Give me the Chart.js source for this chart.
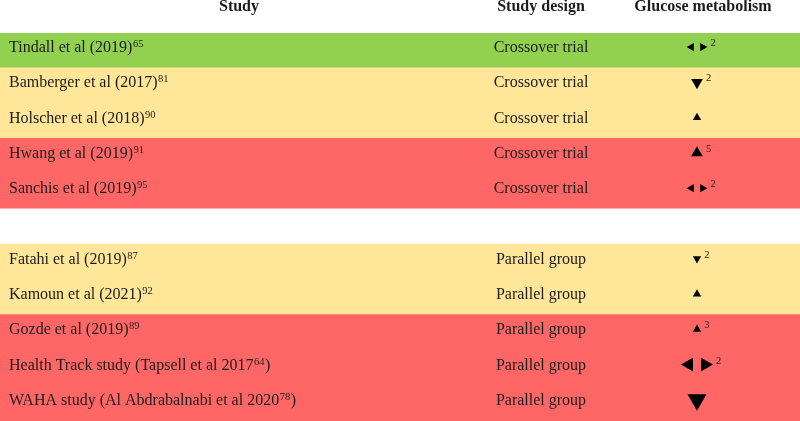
<!DOCTYPE html>
<html lang="en">
<head>
<meta charset="UTF-8">
<title>Glucose metabolism</title>
<script src="https://cdn.jsdelivr.net/npm/chart.js"></script>
<style>
    body { margin: 0; background: #fff; }
    #wrap { width: 800px; height: 421px; }
</style>
</head>
<body>
<div id="wrap"><canvas id="tableChart" width="800" height="421"></canvas></div>
<script>
// Table content
const headers = ['Study', 'Study design', 'Glucose metabolism'];
const studies = ['Tindall et al (2019)', 'Bamberger et al (2017)', 'Holscher et al (2018)', 'Hwang et al (2019)',
    'Sanchis et al (2019)', 'Fatahi et al (2019)', 'Kamoun et al (2021)', 'Gozde et al (2019)',
    'Health Track study (Tapsell et al 2017', 'WAHA study (Al Abdrabalnabi et al 2020'];
const studyRefs = ['65', '81', '90', '91', '95', '87', '92', '89', '64', '78'];
const studyTail = ['', '', '', '', '', '', '', '', ')', ')'];
const designs = ['Crossover trial', 'Crossover trial', 'Crossover trial', 'Crossover trial', 'Crossover trial',
    'Parallel group', 'Parallel group', 'Parallel group', 'Parallel group', 'Parallel group'];
const glucoseEffect = ['none', 'down', 'up', 'up', 'none', 'down', 'up', 'up', 'none', 'down'];
const effectLevel = [1, 2, 1, 2, 1, 1, 1, 1, 3, 4];
const effectNotes = ['2', '2', '', '5', '2', '2', '', '3', '2', ''];
const qualityLevel = ['green', 'yellow', 'yellow', 'red', 'red', 'yellow', 'yellow', 'red', 'red', 'red'];

// Styling
const shades = { green: '#92d050', yellow: '#ffe699', red: '#ff6666' };
const radiusFor = { 1: 4.8, 2: 6.8, 3: 8, 4: 11 };
const serif = '"Liberation Serif", "Times New Roman", serif';
const textColor = '#1c1c1c';
const xMax = 800;
const colStudy = 9, colDesign = 541, colGlucose = 697;
const lift = 0.1;

// Rows: a blank spacer row goes between the two study designs
const rows = [];
studies.forEach((s, i) => {
    if (i > 0 && designs[i] !== designs[i - 1]) rows.push(null);
    rows.push(i);
});
const rowOf = studies.map((s, i) => rows.indexOf(i));

const bandData = rows.map((r, k) => ({ x: [0, xMax], y: k }));
const bandColors = rows.map(r => r === null ? '#ffffff' : shades[qualityLevel[r]]);

function pairGap(i) { return radiusFor[effectLevel[i]] * 0.75 + 2; }

const single = studies.map((s, i) => i).filter(i => glucoseEffect[i] !== 'none');
const paired = studies.map((s, i) => i).filter(i => glucoseEffect[i] === 'none');

const triangleSingle = {
    type: 'scatter',
    order: 0,
    data: single.map(i => ({ x: colGlucose, y: rowOf[i] - lift })),
    pointStyle: 'triangle',
    pointRotation: single.map(i => glucoseEffect[i] === 'up' ? 0 : 180),
    pointRadius: single.map(i => radiusFor[effectLevel[i]]),
    backgroundColor: '#000',
    borderColor: '#000',
    borderWidth: 0
};
const triangleLeft = {
    type: 'scatter',
    order: 0,
    data: paired.map(i => ({ x: colGlucose - pairGap(i), y: rowOf[i] - lift })),
    pointStyle: 'triangle',
    pointRotation: 270,
    pointRadius: paired.map(i => radiusFor[effectLevel[i]]),
    backgroundColor: '#000',
    borderColor: '#000',
    borderWidth: 0
};
const triangleRight = {
    ...triangleLeft,
    data: paired.map(i => ({ x: colGlucose + pairGap(i), y: rowOf[i] - lift })),
    pointRotation: 90
};

// Texts of the table drawn on top of the bands
const tableText = {
    id: 'tableText',
    afterDatasetsDraw(chart) {
        const ctx = chart.ctx;
        const yScale = chart.scales.y;
        ctx.save();
        ctx.fillStyle = textColor;

        ctx.font = 'bold 16px ' + serif;
        ctx.textAlign = 'center';
        ctx.textBaseline = 'alphabetic';
        ctx.fillText(headers[0], 239, 11);
        ctx.fillText(headers[1], colDesign, 11);
        ctx.fillText(headers[2], 703, 11);

        studies.forEach((s, i) => {
            const y = yScale.getPixelForValue(rowOf[i] - lift);
            const base = y + 5;
            ctx.textAlign = 'left';
            ctx.font = '16px ' + serif;
            ctx.fillText(s, colStudy, base);
            let x = colStudy + ctx.measureText(s).width + 0.5;
            ctx.font = '10.5px ' + serif;
            ctx.fillText(studyRefs[i], x, base - 5);
            x += ctx.measureText(studyRefs[i]).width + 0.5;
            ctx.font = '16px ' + serif;
            ctx.fillText(studyTail[i], x, base);

            ctx.textAlign = 'center';
            ctx.fillText(designs[i], colDesign, base);

            if (effectNotes[i]) {
                const r = radiusFor[effectLevel[i]];
                const right = glucoseEffect[i] === 'none' ? colGlucose + pairGap(i) + r : colGlucose + r * 0.87;
                ctx.textAlign = 'left';
                ctx.font = '10.5px ' + serif;
                ctx.fillText(effectNotes[i], right + 3, y - 1);
            }
        });
        ctx.restore();
    }
};

new Chart(document.getElementById('tableChart'), {
    data: {
        datasets: [triangleSingle, triangleLeft, triangleRight, {
            type: 'bar',
            order: 10,
            indexAxis: 'y',
            data: bandData,
            backgroundColor: bandColors,
            borderWidth: 0,
            barThickness: 'flex',
            barPercentage: 1.03,
            categoryPercentage: 1
        }]
    },
    options: {
        responsive: false,
        animation: false,
        layout: { autoPadding: false, padding: { top: 33, left: 0, right: 0, bottom: 0 } },
        scales: {
            x: { type: 'linear', min: 0, max: xMax, offset: false, display: false },
            y: { type: 'linear', min: -0.5, max: rows.length - 0.5, reverse: true, offset: false, display: false }
        },
        plugins: {
            legend: { display: false },
            tooltip: { enabled: false }
        }
    },
    plugins: [tableText]
});
</script>
</body>
</html>
